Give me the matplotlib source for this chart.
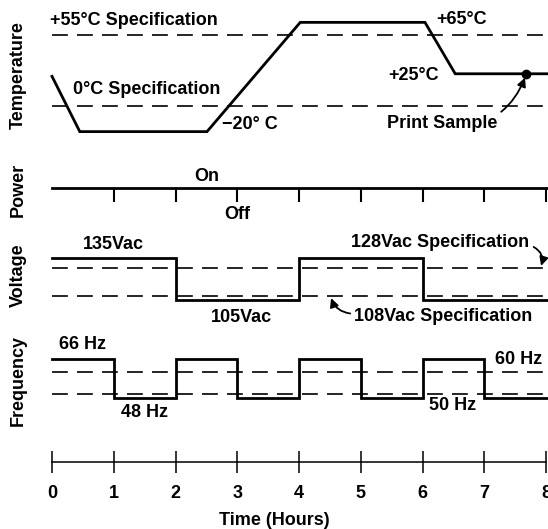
import matplotlib
matplotlib.use("Agg")
import matplotlib.pyplot as plt

plt.rcParams['font.family'] = ['Liberation Sans', 'DejaVu Sans']
plt.rcParams['font.weight'] = 'bold'
plt.rcParams['font.size'] = 13

# ── test profile ──
temp_hours = [0, 0.45, 2.51, 4.02, 6.04, 6.53, 8.05]
temp_vals = [23, -20, -20, 65, 65, 25, 25]
temp_specs = [55, 0]
print_sample = (7.68, 25)

power_hours = [0, 8.05]
power_state = [1, 1]
power_ticks = [1, 2, 3, 4, 5, 6, 7, 8]

volt_hours = [0, 2, 2, 4, 4, 6, 6, 8.05]
volt_vals = [135, 135, 105, 105, 135, 135, 105, 105]
volt_specs = [128, 108]

freq_hours = [0, 1, 1, 2, 2, 3, 3, 4, 4, 5, 5, 6, 6, 7, 7, 8.05]
freq_vals = [66, 66, 48, 48, 66, 66, 48, 48, 66, 66, 48, 48, 66, 66, 48, 48]
freq_specs = [60, 50]

time_ticks = [0, 1, 2, 3, 4, 5, 6, 7, 8]

W, H = 548, 529
XLIM = (-0.842, 8.032)
LW = 2.0


def band(top, bottom):
    """Full-width axes covering pixel rows top..bottom."""
    ax = fig.add_axes([0, 1 - bottom / H, 1, (bottom - top) / H])
    ax.set_xlim(*XLIM)
    ax.axis('off')
    return ax


def dashed(ax, y):
    ax.plot([0, XLIM[1]], [y, y], color='black', lw=1.2, dashes=(9.5, 5.5))


fig = plt.figure(figsize=(W / 100, H / 100), dpi=100)

# Temperature
ax_t = band(0, 150)
ax_t.set_ylim(-34.3, 82.4)
for s in temp_specs:
    dashed(ax_t, s)
ax_t.plot(temp_hours, temp_vals, color='black', lw=LW, solid_joinstyle='miter')
ax_t.plot(*print_sample, 'o', color='black', ms=6)
ax_t.text(-0.03, 66.8, '+55°C Specification', va='center', ha='left')
ax_t.text(0.34, 12.4, '0°C Specification', va='center', ha='left')
ax_t.text(2.75, -14.8, '\u221220° C', va='center', ha='left')
ax_t.text(6.23, 67.6, '+65°C', va='center', ha='left')
ax_t.text(5.44, 24, '+25°C', va='center', ha='left')
ax_t.annotate('Print Sample', xy=(print_sample[0] - 0.02, print_sample[1] - 3),
              xytext=(5.43, -14), va='center', ha='left',
              arrowprops=dict(arrowstyle='-|>', color='black', lw=1.3,
                              shrinkA=1, shrinkB=0,
                              connectionstyle='arc3,rad=0.4'))

# Power
ax_p = band(150, 230)
ax_p.set_ylim(0.16, 1.76)
ax_p.plot(power_hours, power_state, color='black', lw=LW)
ax_p.vlines(power_ticks, 0.72, 1, color='black', lw=1.5)
ax_p.text(2.5, 1.22, 'On', ha='center', va='center')
ax_p.text(3.0, 0.46, 'Off', ha='center', va='center')

# Voltage
ax_v = band(230, 325)
ax_v.set_ylim(87.3, 155.1)
for s in volt_specs:
    dashed(ax_v, s)
ax_v.plot(volt_hours, volt_vals, color='black', lw=LW, solid_joinstyle='miter')
ax_v.text(1.0, 144.4, '135Vac', ha='center', va='center')
ax_v.text(3.06, 92.3, '105Vac', ha='center', va='center')
ax_v.text(6.28, 145.9, '128Vac Specification', ha='center', va='center')
ax_v.text(6.33, 93.7, '108Vac Specification', ha='center', va='center')
ax_v.annotate('', xy=(7.92, 129.5), xytext=(7.8, 143),
              arrowprops=dict(arrowstyle='-|>', color='black', lw=1.3,
                              shrinkA=0, shrinkB=0,
                              connectionstyle='arc3,rad=-0.4'))
ax_v.annotate('', xy=(4.52, 106.5), xytext=(4.83, 95.5),
              arrowprops=dict(arrowstyle='-|>', color='black', lw=1.3,
                              shrinkA=0, shrinkB=0,
                              connectionstyle='arc3,rad=-0.3'))

# Frequency
ax_f = band(325, 435)
ax_f.set_ylim(31.0, 81.7)
for s in freq_specs:
    dashed(ax_f, s)
ax_f.plot(freq_hours, freq_vals, color='black', lw=LW, solid_joinstyle='miter')
ax_f.text(0.5, 72.5, '66 Hz', ha='center', va='center')
ax_f.text(1.49, 41.6, '48 Hz', ha='center', va='center')
ax_f.text(7.56, 65.6, '60 Hz', ha='center', va='center')
ax_f.text(6.49, 44.8, '50 Hz', ha='center', va='center')

# Time axis
ax_x = fig.add_axes([0, 1 - 462 / H, 1, 0.001])
ax_x.set_xlim(*XLIM)
for side in ('top', 'left', 'right'):
    ax_x.spines[side].set_visible(False)
ax_x.spines['bottom'].set_bounds(0, 8)
ax_x.spines['bottom'].set_linewidth(1.1)
ax_x.set_yticks([])
ax_x.set_xticks(time_ticks)
ax_x.tick_params(axis='x', direction='inout', length=16.5, width=1.1, pad=8.5,
                 labelsize=13)
ax_x.set_xlabel('Time (Hours)', fontsize=13, fontweight='bold', labelpad=7)

# Panel names
for name, yc in [('Temperature', 75), ('Power', 190), ('Voltage', 275), ('Frequency', 380)]:
    fig.text(18 / W, 1 - yc / H, name, rotation=90, ha='center', va='center',
             fontsize=13, fontweight='bold')

fig.savefig('out.png', dpi=100)
